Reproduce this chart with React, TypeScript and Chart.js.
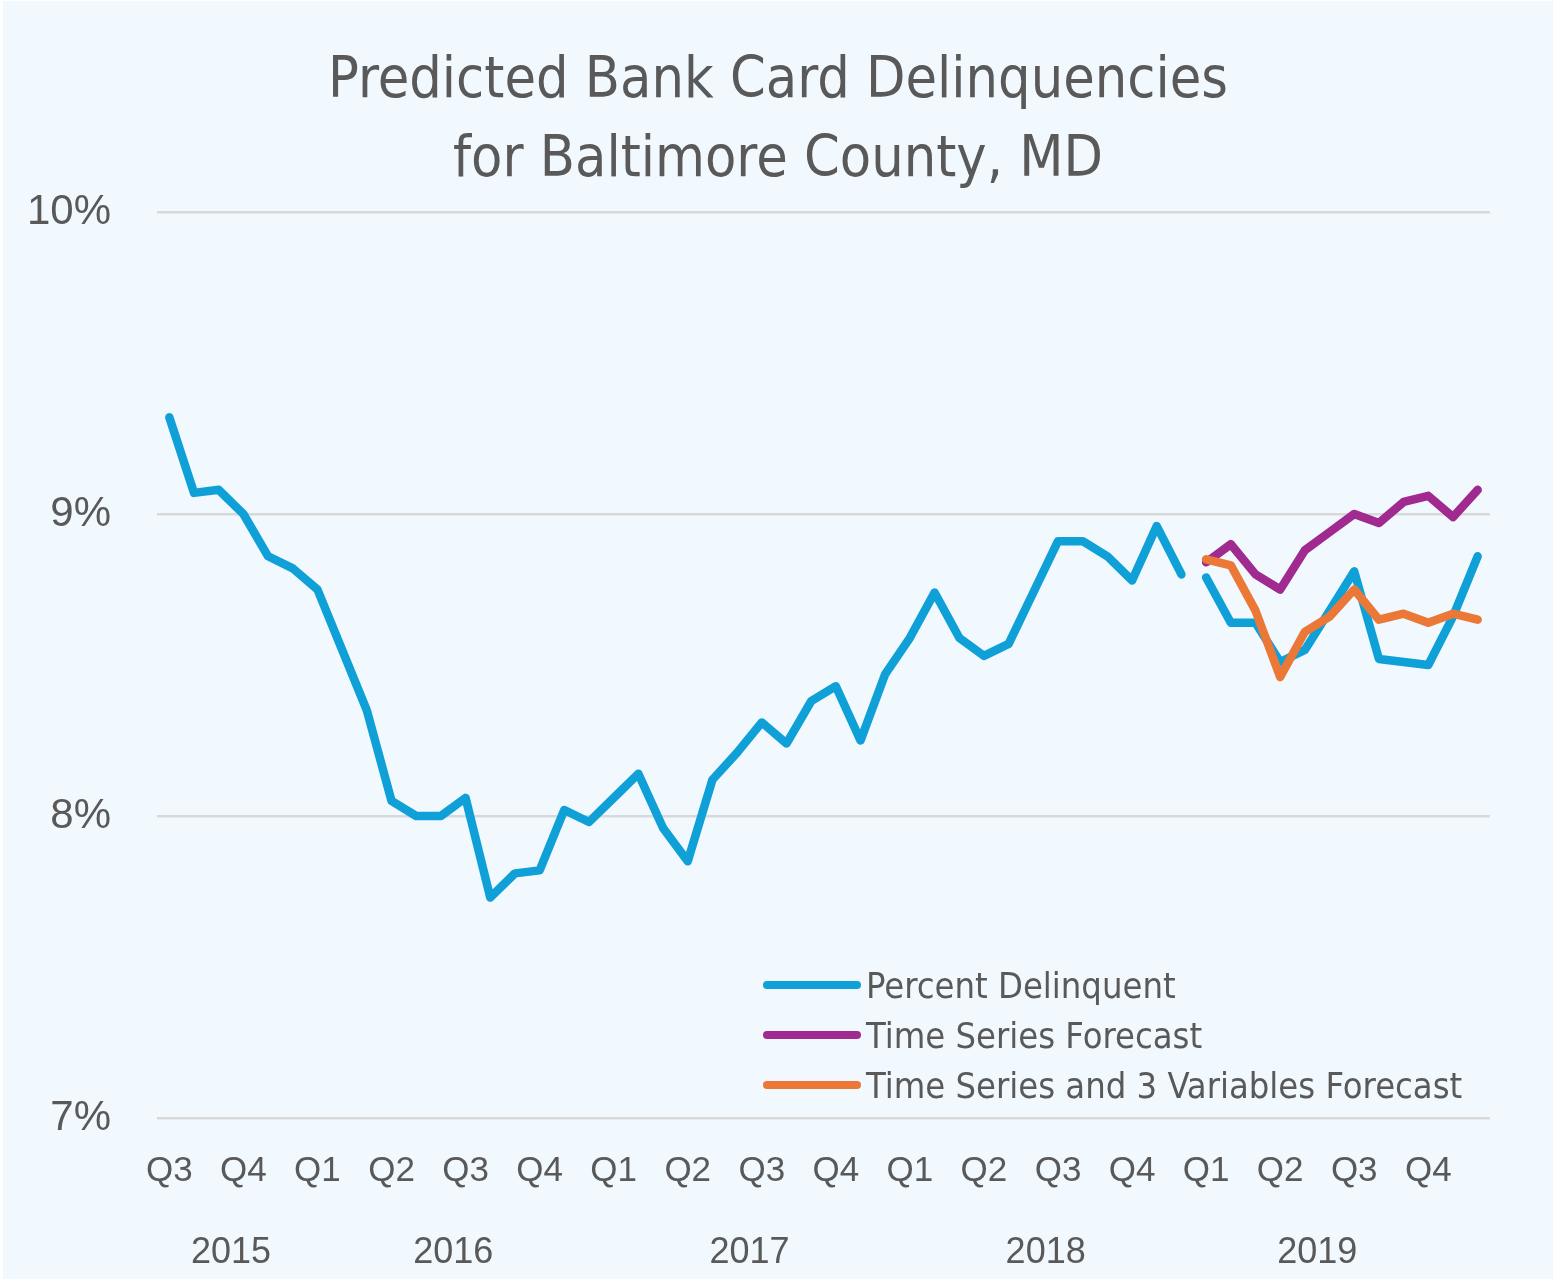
import React, { useEffect, useRef } from 'react';
import { Chart, registerables } from 'chart.js';

Chart.register(...registerables);

// ---------- data ----------
const categories = [
  'Jul 2015', 'Aug 2015', 'Sep 2015', 'Oct 2015', 'Nov 2015', 'Dec 2015',
  'Jan 2016', 'Feb 2016', 'Mar 2016', 'Apr 2016', 'May 2016', 'Jun 2016',
  'Jul 2016', 'Aug 2016', 'Sep 2016', 'Oct 2016', 'Nov 2016', 'Dec 2016',
  'Jan 2017', 'Feb 2017', 'Mar 2017', 'Apr 2017', 'May 2017', 'Jun 2017',
  'Jul 2017', 'Aug 2017', 'Sep 2017', 'Oct 2017', 'Nov 2017', 'Dec 2017',
  'Jan 2018', 'Feb 2018', 'Mar 2018', 'Apr 2018', 'May 2018', 'Jun 2018',
  'Jul 2018', 'Aug 2018', 'Sep 2018', 'Oct 2018', 'Nov 2018', 'Dec 2018',
  'Jan 2019', 'Feb 2019', 'Mar 2019', 'Apr 2019', 'May 2019', 'Jun 2019',
  'Jul 2019', 'Aug 2019', 'Sep 2019', 'Oct 2019', 'Nov 2019', 'Dec 2019',
];

const quarterOfMonth: Record<string, string> = { Jan: 'Q1', Apr: 'Q2', Jul: 'Q3', Oct: 'Q4' };

const yearLabels = ['2015', '2016', '2017', '2018', '2019'];
const yearCenters = [2.5, 11.5, 23.5, 35.5, 46.5]; // in category-index units

const yTickValues = [7, 8, 9, 10];

// Jul 2015 – Dec 2018
const percentDelinquentHistory = [
  9.32, 9.07, 9.08, 9.0, 8.86, 8.82,
  8.75, 8.55, 8.35, 8.05, 8.0, 8.0,
  8.06, 7.73, 7.81, 7.82, 8.02, 7.98,
  8.06, 8.14, 7.96, 7.85, 8.12, 8.21,
  8.31, 8.24, 8.38, 8.43, 8.25, 8.47,
  8.59, 8.74, 8.59, 8.53, 8.57, 8.74,
  8.91, 8.91, 8.86, 8.78, 8.96, 8.8,
];

// Jan 2019 – Dec 2019
const percentDelinquent2019 = [8.79, 8.64, 8.64, 8.51, 8.55, 8.68, 8.81, 8.52, 8.51, 8.5, 8.66, 8.86];
const timeSeriesForecast = [8.84, 8.9, 8.8, 8.75, 8.88, 8.94, 9.0, 8.97, 9.04, 9.06, 8.99, 9.08];
const threeVariablesForecast = [8.85, 8.83, 8.68, 8.46, 8.61, 8.66, 8.75, 8.65, 8.67, 8.64, 8.67, 8.65];

const seriesNames = ['Percent Delinquent', 'Time Series Forecast', 'Time Series and 3 Variables Forecast'];
const seriesColors = ['#10A0D8', '#A02A90', '#EB7837'];

// ---------- styling ----------
const TEXT_COLOR = '#595959';
const TITLE_FONT = "'DejaVu Sans Condensed', 'DejaVu Sans', sans-serif";
const AXIS_FONT = "'Liberation Sans', Arial, sans-serif";

const padFront = (n: number, arr: number[]) => [...Array(n).fill(null), ...arr];
const padBack = (arr: number[], total: number) => [...arr, ...Array(total - arr.length).fill(null)];

const overlayPlugin = {
  id: 'overlayText',
  afterDraw(chart: any) {
    const { ctx, chartArea, scales } = chart;
    const xScale = scales.x;
    ctx.save();
    // Title
    ctx.fillStyle = TEXT_COLOR;
    ctx.textAlign = 'center';
    ctx.textBaseline = 'alphabetic';
    ctx.font = `57px ${TITLE_FONT}`;
    const cx = chart.width / 2;
    ctx.fillText('Predicted Bank Card Delinquencies', cx, 96);
    ctx.fillText('for Baltimore County, MD', cx, 175);

    // Year labels
    ctx.font = `36px ${AXIS_FONT}`;
    yearLabels.forEach((lbl, i) => {
      const x = xScale.getPixelForValue(yearCenters[i]);
      ctx.fillText(lbl, x, chartArea.bottom + 145);
    });

    // Legend
    const lx = chartArea.left + 610;
    const ly = chartArea.bottom - 133;
    ctx.font = `36px ${TITLE_FONT}`;
    ctx.textAlign = 'left';
    seriesNames.forEach((name, i) => {
      const y = ly + i * 50;
      ctx.beginPath();
      ctx.strokeStyle = seriesColors[i];
      ctx.lineWidth = 8;
      ctx.lineCap = 'round';
      ctx.moveTo(lx, y);
      ctx.lineTo(lx + 90, y);
      ctx.stroke();
      ctx.fillStyle = TEXT_COLOR;
      ctx.fillText(name, lx + 99, y + 13);
    });
    ctx.restore();
  },
};

export default function App() {
  const canvasRef = useRef<HTMLCanvasElement | null>(null);

  useEffect(() => {
    if (!canvasRef.current) return;
    const total = categories.length;
    const nHist = percentDelinquentHistory.length;
    const lineStyle = {
      borderWidth: 8.5,
      pointRadius: 0,
      pointHoverRadius: 0,
      borderCapStyle: 'round' as const,
      borderJoinStyle: 'round' as const,
      tension: 0,
      fill: false,
      spanGaps: false,
    };
    const chart = new Chart(canvasRef.current, {
      type: 'line',
      data: {
        labels: categories,
        datasets: [
          {
            label: seriesNames[0],
            data: padBack(percentDelinquentHistory, total),
            borderColor: seriesColors[0],
            backgroundColor: seriesColors[0],
            order: 3,
            ...lineStyle,
          },
          {
            label: seriesNames[0] + ' 2019',
            data: padFront(nHist, percentDelinquent2019),
            borderColor: seriesColors[0],
            backgroundColor: seriesColors[0],
            order: 3,
            ...lineStyle,
          },
          {
            label: seriesNames[1],
            data: padFront(nHist, timeSeriesForecast),
            borderColor: seriesColors[1],
            backgroundColor: seriesColors[1],
            order: 2,
            ...lineStyle,
          },
          {
            label: seriesNames[2],
            data: padFront(nHist, threeVariablesForecast),
            borderColor: seriesColors[2],
            backgroundColor: seriesColors[2],
            order: 1,
            ...lineStyle,
          },
        ],
      },
      options: {
        responsive: false,
        animation: false,
        events: [],
        layout: { padding: { top: 211, right: 63, bottom: 0, left: 0 } },
        plugins: {
          legend: { display: false },
          title: { display: false },
          tooltip: { enabled: false },
        },
        scales: {
          x: {
            type: 'category',
            offset: true,
            grid: { display: false, drawTicks: false },
            border: { display: false },
            afterFit: (scale: any) => {
              scale.height = 161;
            },
            ticks: {
              autoSkip: false,
              maxRotation: 0,
              minRotation: 0,
              padding: 32,
              color: TEXT_COLOR,
              font: { family: AXIS_FONT, size: 35 },
              callback: function (this: any, value: any, index: number) {
                const lbl = categories[index] || '';
                return quarterOfMonth[lbl.slice(0, 3)] || '';
              },
            },
          },
          y: {
            min: 7,
            max: 10,
            afterFit: (scale: any) => {
              scale.width = 154;
            },
            afterBuildTicks: (scale: any) => {
              scale.ticks = yTickValues.map((v) => ({ value: v }));
            },
            grid: { color: '#D9D9D9', lineWidth: 2.5, drawTicks: false },
            border: { display: false },
            ticks: {
              padding: 46,
              color: TEXT_COLOR,
              font: { family: AXIS_FONT, size: 42 },
              callback: (v: any) => `${v}%`,
            },
          },
        },
      },
      plugins: [overlayPlugin],
    });
    return () => chart.destroy();
  }, []);

  return (
    <div
      style={{
        position: 'absolute',
        left: 3,
        top: 1,
        width: 1550,
        height: 1278,
        background: '#F1F8FE',
      }}
    >
      <canvas ref={canvasRef} width={1550} height={1278} style={{ display: 'block' }} />
    </div>
  );
}
